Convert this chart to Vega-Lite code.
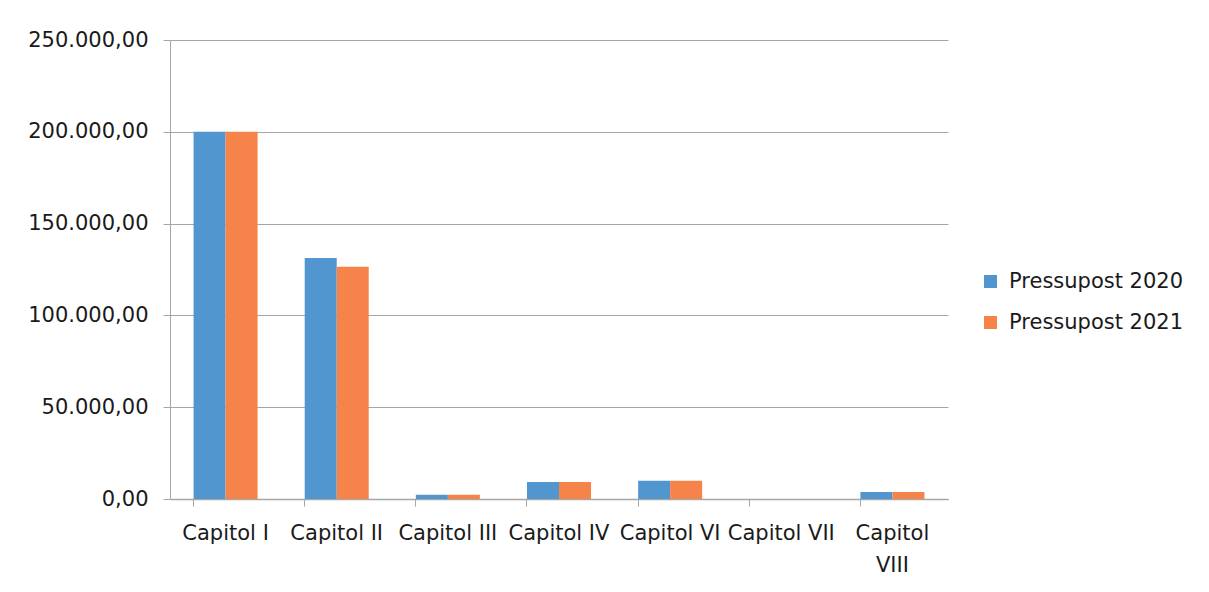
{
  "$schema": "https://vega.github.io/schema/vega-lite/v6.json",
  "autosize": "none",
  "width": 778,
  "height": 459,
  "padding": {"left": 170, "top": 40, "right": 261, "bottom": 93},
  "background": "white",
  "config": {
    "locale": {"number": {"decimal": ",", "thousands": ".", "grouping": [3], "currency": ["", " €"]}},
    "font": "DejaVu Sans",
    "view": {"stroke": null}
  },
  "data": {
    "values": [
      {"capitol": "Capitol I", "serie": "Pressupost 2020", "valor": 200000},
      {"capitol": "Capitol I", "serie": "Pressupost 2021", "valor": 200000},
      {"capitol": "Capitol II", "serie": "Pressupost 2020", "valor": 131300},
      {"capitol": "Capitol II", "serie": "Pressupost 2021", "valor": 126500},
      {"capitol": "Capitol III", "serie": "Pressupost 2020", "valor": 2300},
      {"capitol": "Capitol III", "serie": "Pressupost 2021", "valor": 2300},
      {"capitol": "Capitol IV", "serie": "Pressupost 2020", "valor": 9300},
      {"capitol": "Capitol IV", "serie": "Pressupost 2021", "valor": 9300},
      {"capitol": "Capitol VI", "serie": "Pressupost 2020", "valor": 10000},
      {"capitol": "Capitol VI", "serie": "Pressupost 2021", "valor": 10000},
      {"capitol": "Capitol VII", "serie": "Pressupost 2020", "valor": 0},
      {"capitol": "Capitol VII", "serie": "Pressupost 2021", "valor": 0},
      {"capitol": "Capitol VIII", "serie": "Pressupost 2020", "valor": 3800},
      {"capitol": "Capitol VIII", "serie": "Pressupost 2021", "valor": 3800}
    ]
  },
  "mark": {"type": "bar"},
  "encoding": {
    "x": {
      "field": "capitol",
      "type": "nominal",
      "sort": null,
      "scale": {"paddingInner": 0.424, "paddingOuter": 0.212},
      "axis": {
        "title": null,
        "labelAngle": 0,
        "labelFontSize": 21,
        "labelColor": "#1a1a1a",
        "labelPadding": 16,
        "labelBaseline": "top",
        "labelLineHeight": 32,
        "labelExpr": "datum.label == 'Capitol VIII' ? ['Capitol', 'VIII'] : datum.label",
        "bandPosition": 0,
        "tickSize": 7,
        "tickColor": "#a6a6a6",
        "domainColor": "#a6a6a6",
        "domainWidth": 1.5,
        "labelOverlap": false,
        "labelBound": false,
        "labelLimit": 300
      }
    },
    "xOffset": {"field": "serie", "type": "nominal", "sort": null},
    "y": {
      "field": "valor",
      "type": "quantitative",
      "scale": {"domain": [0, 250000], "nice": false},
      "axis": {
        "title": null,
        "values": [0, 50000, 100000, 150000, 200000, 250000],
        "format": ",.2f",
        "labelFontSize": 21,
        "labelColor": "#1a1a1a",
        "labelPadding": 15,
        "tickSize": 7,
        "tickColor": "#a6a6a6",
        "domainColor": "#a6a6a6",
        "gridColor": "#a6a6a6",
        "gridWidth": 1.2
      }
    },
    "color": {
      "field": "serie",
      "type": "nominal",
      "sort": null,
      "scale": {"range": ["#5296D0", "#F5834A"]},
      "legend": {
        "title": null,
        "orient": "none",
        "legendX": 810,
        "legendY": 231,
        "symbolType": "square",
        "symbolSize": 170,
        "symbolStrokeWidth": 0,
        "labelFontSize": 21,
        "labelColor": "#1a1a1a",
        "labelOffset": 8,
        "labelLimit": 300,
        "rowPadding": 19
      }
    }
  }
}
